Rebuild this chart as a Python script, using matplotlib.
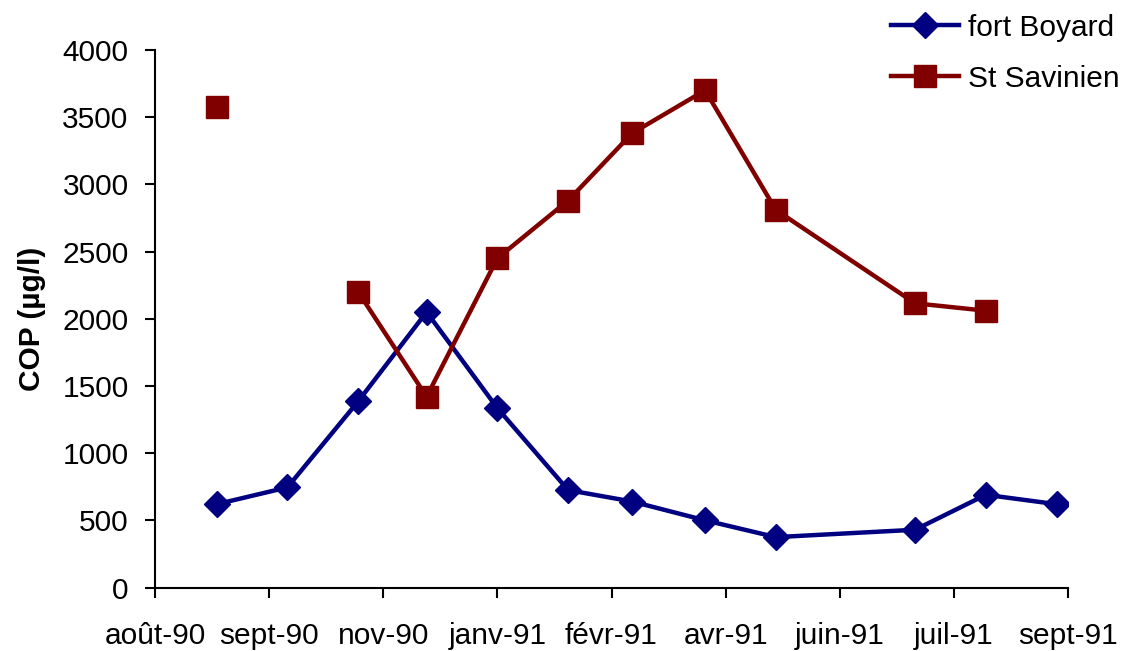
import numpy as np
import pandas as pd
import matplotlib
matplotlib.use("Agg")
import matplotlib.pyplot as plt

plt.rcParams['font.family'] = ['Liberation Sans', 'DejaVu Sans']

# sampling dates
dates = pd.to_datetime(['1990-09-04', '1990-10-05', '1990-11-05', '1990-12-05',
                        '1991-01-05', '1991-02-05', '1991-03-05', '1991-04-06',
                        '1991-05-07', '1991-07-07', '1991-08-07', '1991-09-07'])

fort_boyard = [620, 745, 1385, 2050, 1335, 725, 640, 500, 375, 430, 690, 620]
st_savinien = [3575, np.nan, 2200, 1420, 2450, 2880, 3380, 3700, 2810, 2115, 2060, np.nan]

tick_start = '1990-08-08'
tick_labels = ['août-90', 'sept-90', 'nov-90', 'janv-91', 'févr-91',
               'avr-91', 'juin-91', 'juil-91', 'sept-91']
tick_dates = pd.date_range(tick_start, periods=len(tick_labels), freq='50D')

fig = plt.figure(figsize=(11.32, 6.51), dpi=100)
ax = fig.add_axes([0.1369, 0.0975, 0.8066, 0.8257])

ax.plot(dates, fort_boyard, color='#000080', lw=3.2, marker='D', ms=13,
        mec='#000080', mfc='#000080', label='fort Boyard')
ax.plot(dates, st_savinien, color='#800000', lw=3.2, marker='s', ms=16.5,
        mec='#800000', mfc='#800000', label='St Savinien')

ax.set_xlim(tick_dates[0], tick_dates[-1])
ax.set_xticks(tick_dates)
ax.set_xticklabels(tick_labels)
ax.set_ylim(0, 4000)
ax.set_yticks(np.arange(0, 4001, 500))

for s in ['top', 'right']:
    ax.spines[s].set_visible(False)
for s in ['left', 'bottom']:
    ax.spines[s].set_linewidth(1.5)
ax.tick_params(axis='both', direction='out', length=7, width=1.5, labelsize=21.5)
ax.tick_params(axis='x', pad=18)
ax.tick_params(axis='y', pad=12)

ax.set_ylabel('COP (µg/l)', fontsize=21.5, fontweight='bold', labelpad=12)

fig.legend(loc='upper right', bbox_to_anchor=(1.013, 1.02), frameon=False,
           fontsize=21.5, handlelength=2.3, handletextpad=0.3, labelspacing=0.77)

fig.savefig('out.png', dpi=100)
